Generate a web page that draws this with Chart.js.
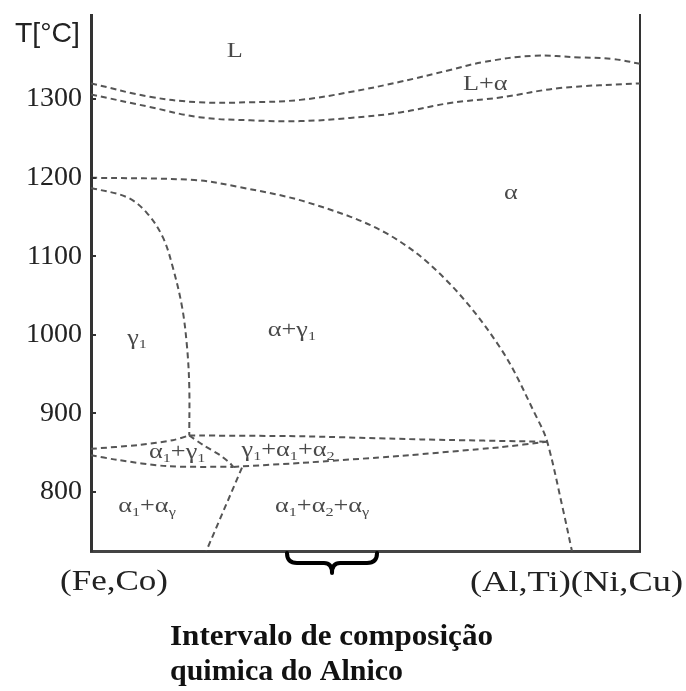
<!DOCTYPE html>
<html>
<head>
<meta charset="utf-8">
<script src="https://cdn.jsdelivr.net/npm/chart.js"></script>
<style>
  body { margin: 0; background: #fff; }
  canvas { display: block; }
</style>
</head>
<body>
<canvas id="chart" width="686" height="691"></canvas>
<script>
// y axis ticks (temperature, °C)
const yTicks = [800, 900, 1000, 1100, 1200, 1300];

// composition axis runs 0..100 from (Fe,Co) to (Al,Ti)(Ni,Cu)
const liquidusX = [0, 10.7, 19.7, 29, 38.1, 47.2, 56.3, 65.4, 71.4, 80.5, 89, 95, 100];
const liquidusT = [1320, 1303, 1296, 1296, 1299, 1309, 1322, 1337, 1347, 1355, 1353, 1351, 1345];

const solidusX = [0, 10.7, 19.7, 29, 38.1, 47.2, 56.3, 65.4, 74.5, 85.4, 100];
const solidusT = [1306, 1290, 1277, 1273, 1272, 1276, 1283, 1295, 1302, 1314, 1320];

const alphaSolvusX = [0, 18.8, 27.1, 39.7, 53.6, 64.1, 74.5, 81.4, 83.1, 86, 87.6];
const alphaSolvusT = [1200, 1197, 1188, 1168, 1130, 1074, 984, 892, 864, 777, 725];

const gammaSolvusX = [0, 6.6, 10.2, 13.1, 14.9, 16.6, 17.5, 17.9, 17.9];
const gammaSolvusT = [1187, 1175, 1155, 1124, 1086, 1035, 984, 934, 872];

// the band of three-phase lines around 850 °C
const lensUpperX = [0, 8.9, 14.9, 17.9];
const lensUpperT = [855, 860, 866, 872];
const lensLowerX = [0, 4.7, 13.8, 25.9];
const lensLowerT = [847, 841, 833, 832];
const peakDropX = [17.9, 20.4, 23.5, 25.3, 25.9];
const peakDropT = [872, 860, 847, 837, 832];
const bandTopX = [17.9, 38.1, 60, 83.1];
const bandTopT = [872, 871, 867, 864];
const bandBottomX = [25.9, 38.1, 56.3, 74.5, 83.1];
const bandBottomT = [832, 837, 846, 857, 864];
const diagonalX = [27.5, 21];
const diagonalT = [831, 725];

// region names ("_" marks a one-char subscript)
const regionText = ['L', 'L+α', 'α', 'γ_1', 'α+γ_1', 'α_1+γ_1', 'γ_1+α_1+α_2', 'α_1+α_γ', 'α_1+α_2+α_γ'];
const regionX = [26.2, 71.8, 76.5, 8.4, 36.6, 15.7, 35.9, 10.2, 42.1];
const regionT = [1360, 1318, 1180, 996, 1006, 850, 853, 782, 782];

// composition interval of Alnico, marked with a brace under the axis
const alnicoRange = [35.7, 52.1];

function toPoints(xs, ts) {
    return xs.map((x, i) => ({ x: x, y: ts[i] }));
}

function dashed(xs, ts, tension) {
    return {
        data: toPoints(xs, ts),
        borderColor: '#555',
        borderWidth: 2,
        borderDash: [6, 4],
        pointRadius: 0,
        fill: false,
        tension: tension
    };
}

// draws text stretched or squeezed to a given width
function drawFitted(ctx, text, x, y, width, font) {
    ctx.save();
    ctx.font = font;
    const w = ctx.measureText(text).width;
    ctx.translate(x, y);
    ctx.scale(width / w, 1);
    ctx.textAlign = 'left';
    ctx.textBaseline = 'alphabetic';
    ctx.fillText(text, 0, 0);
    ctx.restore();
}

// text with one-char subscripts, centred on (cx, cy)
function drawRich(ctx, text, cx, cy, size, stretch) {
    const parts = [];
    for (let i = 0; i < text.length; i++) {
        if (text[i] === '_') { parts.push({ t: text[i + 1], sub: true }); i++; }
        else parts.push({ t: text[i], sub: false });
    }
    const big = size + 'px "Liberation Serif"';
    const small = Math.round(size * 0.62) + 'px "Liberation Serif"';
    let total = 0;
    parts.forEach(p => {
        ctx.font = p.sub ? small : big;
        p.w = ctx.measureText(p.t).width;
        total += p.w;
    });
    ctx.save();
    ctx.translate(cx, cy);
    ctx.scale(stretch, 1);
    ctx.textBaseline = 'middle';
    ctx.textAlign = 'left';
    let x = -total / 2;
    parts.forEach(p => {
        ctx.font = p.sub ? small : big;
        ctx.fillText(p.t, x, p.sub ? size * 0.3 : 0);
        x += p.w;
    });
    ctx.restore();
}

const decorPlugin = {
    id: 'decor',
    afterDraw(chart) {
        const ctx = chart.ctx;
        const xs = chart.scales.x;
        const ys = chart.scales.y;
        const area = chart.chartArea;

        // small inward ticks on the left axis
        ctx.save();
        ctx.strokeStyle = '#333';
        ctx.lineWidth = 2;
        yTicks.forEach(v => {
            const py = Math.round(ys.getPixelForValue(v));
            ctx.beginPath();
            ctx.moveTo(area.left, py);
            ctx.lineTo(area.left + 5, py);
            ctx.stroke();
        });
        ctx.restore();

        // axis title
        ctx.fillStyle = '#222';
        drawFitted(ctx, 'T[°C]', 15, 42, 65, '28px "Liberation Sans"');

        // composition end labels
        drawFitted(ctx, '(Fe,Co)', 60, 590, 108, '30px "Liberation Serif"');
        drawFitted(ctx, '(Al,Ti)(Ni,Cu)', 470, 591, 213, '30px "Liberation Serif"');

        // region labels
        ctx.fillStyle = '#4a4a4a';
        regionText.forEach((t, i) => {
            drawRich(ctx, t, xs.getPixelForValue(regionX[i]), ys.getPixelForValue(regionT[i]), 21, 1.25);
        });

        // brace under the axis
        const x1 = xs.getPixelForValue(alnicoRange[0]);
        const x2 = xs.getPixelForValue(alnicoRange[1]);
        const xm = (x1 + x2) / 2;
        const top = area.bottom + 2, mid = area.bottom + 12, tip = area.bottom + 22;
        ctx.save();
        ctx.strokeStyle = '#000';
        ctx.lineWidth = 4;
        ctx.lineCap = 'round';
        ctx.lineJoin = 'round';
        ctx.beginPath();
        ctx.moveTo(x1, top);
        ctx.quadraticCurveTo(x1, mid, x1 + 10, mid);
        ctx.lineTo(xm - 8, mid);
        ctx.quadraticCurveTo(xm, mid, xm, tip);
        ctx.quadraticCurveTo(xm, mid, xm + 8, mid);
        ctx.lineTo(x2 - 10, mid);
        ctx.quadraticCurveTo(x2, mid, x2, top);
        ctx.stroke();
        ctx.restore();

        // caption
        ctx.fillStyle = '#111';
        drawFitted(ctx, 'Intervalo de composição', 170, 645, 323, 'bold 29px "Liberation Serif"');
        drawFitted(ctx, 'quimica do Alnico', 170, 680, 233, 'bold 29px "Liberation Serif"');
    }
};

const chart = new Chart(document.getElementById('chart'), {
    type: 'line',
    data: {
        datasets: [
            dashed(liquidusX, liquidusT, 0.4),
            dashed(solidusX, solidusT, 0.4),
            dashed(alphaSolvusX, alphaSolvusT, 0.35),
            dashed(gammaSolvusX, gammaSolvusT, 0.35),
            dashed(lensUpperX, lensUpperT, 0.3),
            dashed(lensLowerX, lensLowerT, 0.3),
            dashed(peakDropX, peakDropT, 0.2),
            dashed(bandTopX, bandTopT, 0.2),
            dashed(bandBottomX, bandBottomT, 0.2),
            dashed(diagonalX, diagonalT, 0)
        ]
    },
    options: {
        responsive: false,
        animation: false,
        layout: { padding: { left: 0, top: 15, right: 46, bottom: 140 } },
        plugins: {
            legend: { display: false },
            tooltip: { enabled: false }
        },
        scales: {
            x: {
                type: 'linear',
                min: 0,
                max: 100,
                ticks: { display: false },
                grid: { display: false, drawTicks: false },
                border: { display: true, color: '#444', width: 3 },
                afterFit: s => { s.height = 0; s.paddingLeft = 0; s.paddingRight = 0; }
            },
            y: {
                min: 725,
                max: 1407,
                afterBuildTicks: s => { s.ticks = yTicks.map(v => ({ value: v })); },
                ticks: {
                    padding: 9,
                    color: '#222',
                    font: { family: '"Liberation Serif"', size: 28 },
                    callback: v => String(v)
                },
                grid: { display: false, drawTicks: false },
                border: { display: true, color: '#333', width: 3 },
                afterFit: s => { s.width = 91; s.paddingTop = 0; s.paddingBottom = 0; }
            },
            yRight: {
                position: 'right',
                min: 725,
                max: 1407,
                ticks: { display: false },
                grid: { display: false, drawTicks: false },
                border: { display: true, color: '#333', width: 2 },
                afterFit: s => { s.width = 0; s.paddingTop = 0; s.paddingBottom = 0; }
            }
        }
    },
    plugins: [decorPlugin]
});
</script>
</body>
</html>
